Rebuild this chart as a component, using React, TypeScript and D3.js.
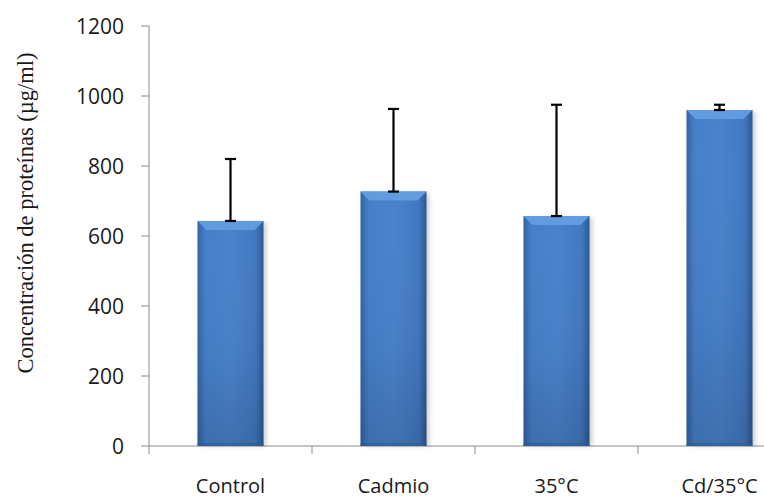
import React from "react";
import * as d3 from "d3";

const categories = ["Control", "Cadmio", "35°C", "Cd/35°C"];
const means = [643, 727, 657, 960];
const errors = [177, 236, 318, 15];
const yTicks = [0, 200, 400, 600, 800, 1000, 1200];

const W = 764;
const H = 498;

export default function App() {
  const x0 = 149;
  const step = 163;
  const x = d3
    .scaleBand<string>()
    .domain(categories)
    .range([x0, x0 + step * categories.length])
    .paddingInner(0)
    .paddingOuter(0);
  const y = d3.scaleLinear().domain([0, 1200]).range([446, 26]);
  const bw = x.bandwidth() * 0.405;
  const bev = 9;

  return (
    <svg
      width={W}
      height={H}
      style={{ position: "absolute", left: 0, top: 0, background: "#ffffff" }}
      xmlns="http://www.w3.org/2000/svg"
    >
      <defs>
        <linearGradient id="barH" x1="0" x2="1" y1="0" y2="0">
          <stop offset="0" stopColor="#3262a3" />
          <stop offset="0.12" stopColor="#467fc8" />
          <stop offset="0.5" stopColor="#4a83cc" />
          <stop offset="0.88" stopColor="#4278c0" />
          <stop offset="1" stopColor="#2c5894" />
        </linearGradient>
        <linearGradient id="barV" x1="0" x2="0" y1="0" y2="1">
          <stop offset="0" stopColor="#ffffff" stopOpacity="0" />
          <stop offset="0.6" stopColor="#000000" stopOpacity="0.03" />
          <stop offset="1" stopColor="#000000" stopOpacity="0.14" />
        </linearGradient>
        <filter id="shadow" x="-20%" y="-5%" width="150%" height="115%">
          <feGaussianBlur stdDeviation="2" />
        </filter>
      </defs>

      {/* y axis */}
      <line x1={x0} x2={x0} y1={y(1200)} y2={454} stroke="#8c8c8c" strokeWidth={1} />
      {yTicks.map((t) => (
        <g key={t}>
          <line x1={141} x2={x0} y1={y(t)} y2={y(t)} stroke="#8c8c8c" strokeWidth={1} />
          <text
            x={124}
            y={y(t)}
            dy="0.36em"
            textAnchor="end"
            fontFamily="'Open Sans', sans-serif"
            fontSize={21}
            fill="#1a1a1a"
          >
            {t}
          </text>
        </g>
      ))}

      {/* x axis */}
      <line x1={x0} x2={W} y1={y(0)} y2={y(0)} stroke="#8c8c8c" strokeWidth={1} />
      {categories.map((c) => (
        <line
          key={"t" + c}
          x1={(x(c) as number) + step}
          x2={(x(c) as number) + step}
          y1={y(0)}
          y2={454}
          stroke="#8c8c8c"
          strokeWidth={1}
        />
      ))}

      {/* bars */}
      {categories.map((c, i) => {
        const cx = (x(c) as number) + x.bandwidth() / 2;
        const left = cx - bw / 2;
        const right = cx + bw / 2;
        const top = y(means[i]);
        const bottom = y(0);
        return (
          <g key={c}>
            <rect
              x={left + 3}
              y={top + 2}
              width={bw}
              height={bottom - top - 2}
              fill="#000"
              opacity={0.18}
              filter="url(#shadow)"
            />
            <rect x={left} y={top} width={bw} height={bottom - top} fill="url(#barH)" />
            <rect x={left} y={top} width={bw} height={bottom - top} fill="url(#barV)" />
            {/* top bevel */}
            <polygon
              points={`${left},${top} ${right},${top} ${right - bev},${top + bev} ${left + bev},${top + bev}`}
              fill="#619be0"
            />
            {/* bottom edge */}
            <rect x={left} y={bottom - 3} width={bw} height={3} fill="#2d5a94" opacity={0.6} />
          </g>
        );
      })}

      {/* error bars */}
      {categories.map((c, i) => {
        const cx = (x(c) as number) + x.bandwidth() / 2;
        const y1 = y(means[i]);
        const y2 = y(means[i] + errors[i]);
        const cap = 5.5;
        return (
          <g key={"e" + c} stroke="#000" strokeWidth={2.2}>
            <line x1={cx} x2={cx} y1={y1} y2={y2} />
            <line x1={cx - cap} x2={cx + cap} y1={y2} y2={y2} />
            <line x1={cx - cap} x2={cx + cap} y1={y1} y2={y1} />
          </g>
        );
      })}

      {/* category labels */}
      {categories.map((c) => (
        <text
          key={"l" + c}
          x={(x(c) as number) + x.bandwidth() / 2}
          y={493}
          textAnchor="middle"
          fontFamily="'Open Sans', sans-serif"
          fontSize={20}
          fill="#1a1a1a"
        >
          {c}
        </text>
      ))}

      {/* y label */}
      <text
        transform={`translate(33, 213) rotate(-90)`}
        textAnchor="middle"
        fontFamily="'Liberation Serif', 'Times New Roman', serif"
        fontSize={22.5}
        fill="#1a1a1a"
      >
        Concentración de proteínas (µg/ml)
      </text>
    </svg>
  );
}
